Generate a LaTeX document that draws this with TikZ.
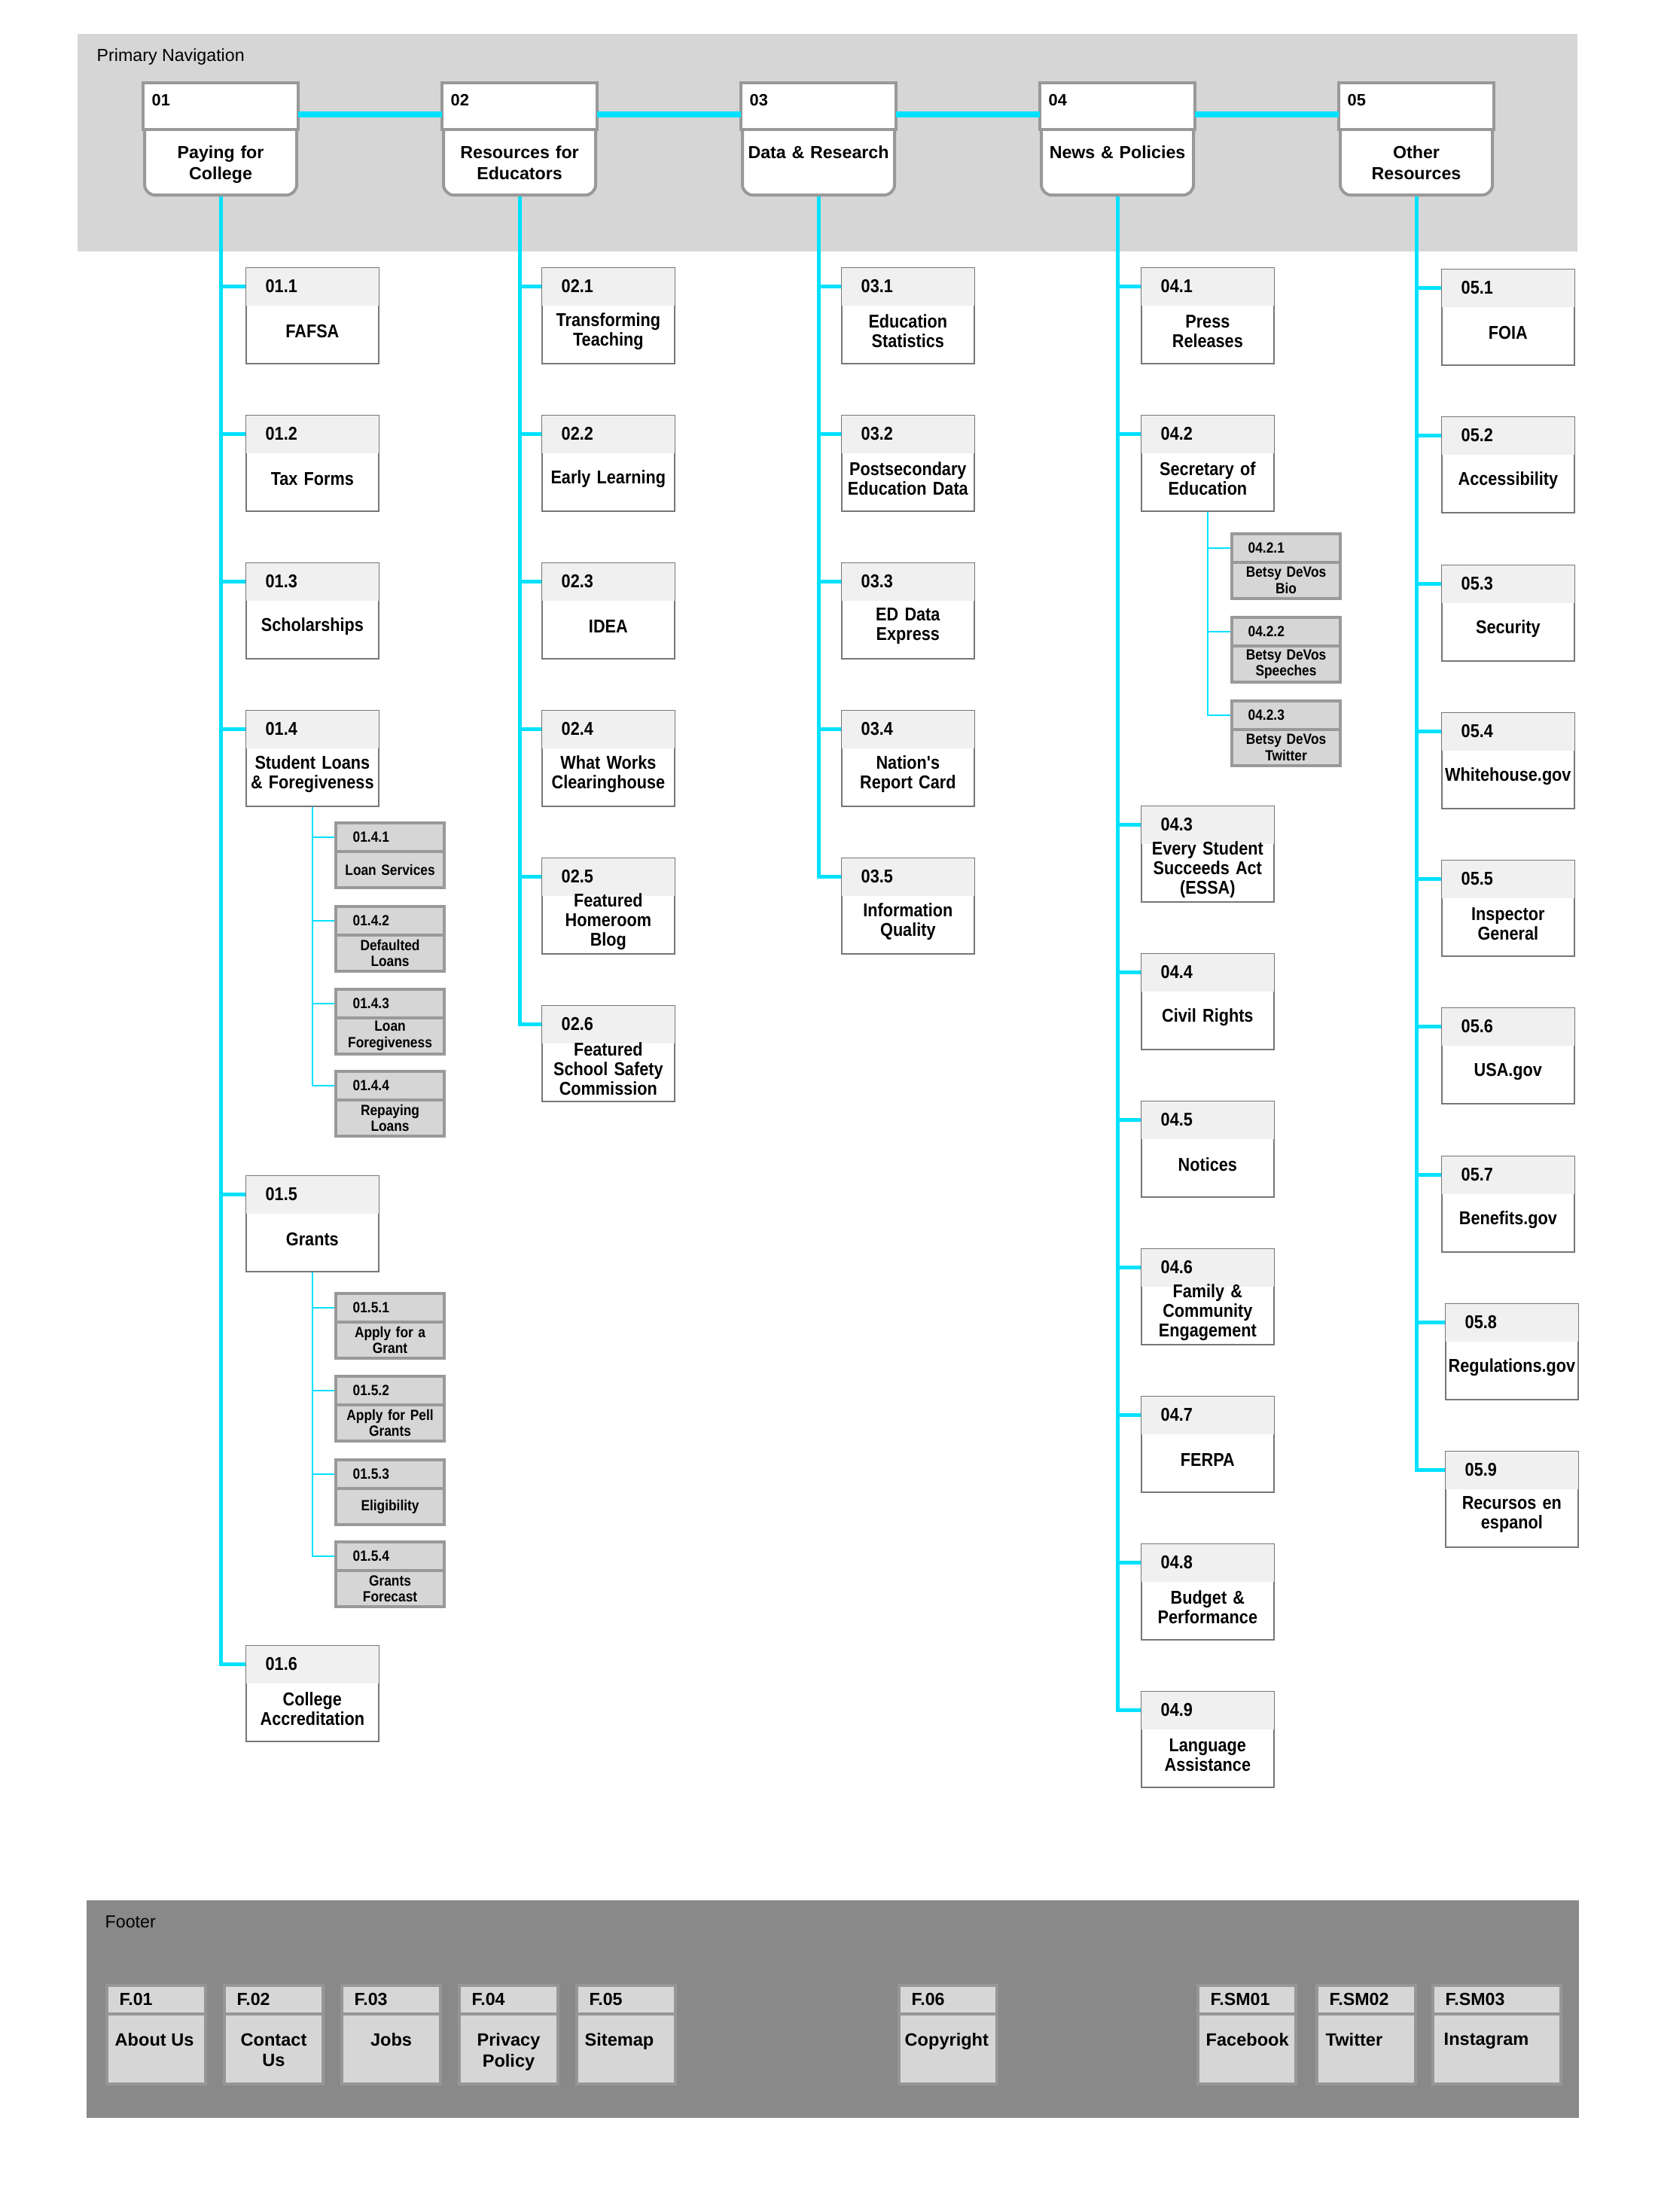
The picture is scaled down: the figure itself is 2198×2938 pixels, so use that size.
\documentclass[tikz,border=0pt]{standalone}
\usepackage{fontspec}
\setmainfont{Liberation Sans}
\newfontfamily\boxfont{Liberation Sans}[FakeStretch=0.88]
\usetikzlibrary{calc}
\definecolor{navcyan}{RGB}{0,225,255}
\definecolor{navband}{RGB}{214,214,214}
\definecolor{footband}{RGB}{137,137,137}
\definecolor{edgegray}{RGB}{153,153,153}
\definecolor{footedge}{RGB}{150,150,150}
\definecolor{boxgray}{RGB}{118,118,118}
\definecolor{headgray}{RGB}{240,240,240}
\definecolor{subfill}{RGB}{214,214,214}

\begin{document}
\begin{tikzpicture}[x=0.01cm,y=-0.01cm,
    bandlabel/.style={anchor=west,inner sep=0,font=\fontsize{6.6}{8}\selectfont},
    navbox/.style={draw=edgegray,line width=0.04cm,fill=white,rounded corners=0.14cm,
      minimum width=2.02cm,minimum height=1.47cm,anchor=north west,inner sep=0},
    navtop/.style={draw=edgegray,line width=0.04cm,fill=white},
    navnum/.style={anchor=west,inner sep=0,font=\bfseries\fontsize{6.2}{7}\selectfont},
    navtitle/.style={anchor=north,inner sep=0,text width=2.1cm,align=center,
      font=\bfseries\fontsize{6.6}{8}\selectfont},
    navlink/.style={navcyan,line width=0.08cm},
    trunk/.style={navcyan,line width=0.05cm},
    twig/.style={navcyan,line width=0.02cm},
    itembox/.style={draw=boxgray,line width=0.016cm,fill=white,minimum width=1.76cm,
      minimum height=1.27cm,anchor=north west,inner sep=0},
    itemhead/.style={fill=headgray},
    itemnum/.style={anchor=west,inner sep=0,font=\boxfont\bfseries\fontsize{7}{8}\selectfont},
    itemtext/.style={inner sep=0,text width=2.2cm,align=center,
      font=\boxfont\bfseries\fontsize{7}{7.4}\selectfont},
    subbox/.style={draw=edgegray,line width=0.04cm,fill=subfill,minimum width=1.44cm,
      minimum height=0.86cm,anchor=north west,inner sep=0},
    subedge/.style={edgegray,line width=0.04cm},
    subnum/.style={anchor=west,inner sep=0,font=\boxfont\bfseries\fontsize{5.6}{6.5}\selectfont},
    subtext/.style={inner sep=0,text width=1.8cm,align=center,
      font=\boxfont\bfseries\fontsize{5.6}{6.1}\selectfont},
    footbox/.style={draw=footedge,line width=0.04cm,fill=subfill,
      minimum height=1.31cm,anchor=north west,inner sep=0},
    footnum/.style={anchor=west,inner sep=0,font=\bfseries\fontsize{6.6}{8}\selectfont},
    foottext/.style={inner sep=0,align=center,font=\bfseries\fontsize{6.7}{7.8}\selectfont}]
  \useasboundingbox (0,0) rectangle (2198,2938);

  % primary navigation
  \fill[navband] (103,45) rectangle (2095,334);
  \node[bandlabel] (navlabel) at (128,75) {Primary Navigation};
  \foreach \k/\x/\txt in {1/190/{Paying for\\College}, 2/587/{Resources for\\Educators},
      3/984/{Data \& Research}, 4/1381/{News \& Policies}, 5/1778/{Other\\Resources}}{
    \node[navbox] (t\k) at (\x,110) {};
    \draw[navtop] (t\k.north west) rectangle ($(t\k.north east)+(0,62)$);
    \node[navnum] (t\k-n) at ($(t\k.north west)+(11,23)$) {0\k};
    \node[navtitle] (t\k-t) at ($(t\k.north)+(0,83)$) {\txt};
  }
  \foreach \a/\b in {1/2,2/3,3/4,4/5}
    \draw[navlink] ($(t\a.north east)+(0,42)$) -- ($(t\b.north west)+(0,42)$);

  % 01
  \foreach \k/\y/\txt in {1/355/FAFSA, 2/551/Tax Forms, 3/747/Scholarships,
      4/943/{Student Loans\\\& Foregiveness}, 5/1561/Grants, 6/2185/{College\\Accreditation}}{
    \node[itembox] (c1\k) at (326,\y) {};
    \fill[itemhead] ($(c1\k.north west)+(1,1)$) rectangle ($(c1\k.north east)+(-1,51)$);
    \node[itemnum] (c1\k-n) at ($(c1\k.north west)+(26,25)$) {01.\k};
    \node[itemtext] (c1\k-t) at ($(c1\k.north)+(0,85)$) {\txt};
    \draw[trunk] (t1.south) |- (c1\k.west |- c1\k-n);
  }
  \foreach \k/\y/\txt in {1/1091/Loan Services, 2/1202/{Defaulted\\Loans},
      3/1312/{Loan\\Foregiveness}, 4/1421/{Repaying\\Loans}}{
    \node[subbox] (s14\k) at (444,\y) {};
    \draw[subedge] ($(s14\k.north west)+(0,40)$) -- ($(s14\k.north east)+(0,40)$);
    \node[subnum] (s14\k-n) at ($(s14\k.north west)+(24,21)$) {01.4.\k};
    \node[subtext] (s14\k-t) at ($(s14\k.north)+(0,64)$) {\txt};
    \draw[twig] (c14.south) |- (s14\k.west |- s14\k-n);
  }
  \foreach \k/\y/\txt in {1/1716/{Apply for a\\Grant}, 2/1826/{Apply for Pell\\Grants},
      3/1937/Eligibility, 4/2046/{Grants\\Forecast}}{
    \node[subbox] (s15\k) at (444,\y) {};
    \draw[subedge] ($(s15\k.north west)+(0,40)$) -- ($(s15\k.north east)+(0,40)$);
    \node[subnum] (s15\k-n) at ($(s15\k.north west)+(24,21)$) {01.5.\k};
    \node[subtext] (s15\k-t) at ($(s15\k.north)+(0,64)$) {\txt};
    \draw[twig] (c15.south) |- (s15\k.west |- s15\k-n);
  }

  % 02
  \foreach \k/\y/\txt in {1/355/{Transforming\\Teaching}, 2/551/Early Learning, 3/747/IDEA,
      4/943/{What Works\\Clearinghouse}, 5/1139/{Featured\\Homeroom\\Blog},
      6/1335/{Featured\\School Safety\\Commission}}{
    \node[itembox] (c2\k) at (719,\y) {};
    \fill[itemhead] ($(c2\k.north west)+(1,1)$) rectangle ($(c2\k.north east)+(-1,51)$);
    \node[itemnum] (c2\k-n) at ($(c2\k.north west)+(26,25)$) {02.\k};
    \node[itemtext] (c2\k-t) at ($(c2\k.north)+(0,85)$) {\txt};
    \draw[trunk] (t2.south) |- (c2\k.west |- c2\k-n);
  }

  % 03
  \foreach \k/\y/\txt in {1/355/{Education\\Statistics}, 2/551/{Postsecondary\\Education Data},
      3/747/{ED Data\\Express}, 4/943/{Nation's\\Report Card}, 5/1139/{Information\\Quality}}{
    \node[itembox] (c3\k) at (1117,\y) {};
    \fill[itemhead] ($(c3\k.north west)+(1,1)$) rectangle ($(c3\k.north east)+(-1,51)$);
    \node[itemnum] (c3\k-n) at ($(c3\k.north west)+(26,25)$) {03.\k};
    \node[itemtext] (c3\k-t) at ($(c3\k.north)+(0,85)$) {\txt};
    \draw[trunk] (t3.south) |- (c3\k.west |- c3\k-n);
  }

  % 04
  \foreach \k/\y/\txt in {1/355/{Press\\Releases}, 2/551/{Secretary of\\Education},
      3/1070/{Every Student\\Succeeds Act\\(ESSA)}, 4/1266/Civil Rights, 5/1462/Notices,
      6/1658/{Family \&\\Community\\Engagement}, 7/1854/FERPA,
      8/2050/{Budget \&\\Performance}, 9/2246/{Language\\Assistance}}{
    \node[itembox] (c4\k) at (1515,\y) {};
    \fill[itemhead] ($(c4\k.north west)+(1,1)$) rectangle ($(c4\k.north east)+(-1,51)$);
    \node[itemnum] (c4\k-n) at ($(c4\k.north west)+(26,25)$) {04.\k};
    \node[itemtext] (c4\k-t) at ($(c4\k.north)+(0,85)$) {\txt};
    \draw[trunk] (t4.south) |- (c4\k.west |- c4\k-n);
  }
  \foreach \k/\y/\txt in {1/707/{Betsy DeVos\\Bio}, 2/818/{Betsy DeVos\\Speeches},
      3/929/{Betsy DeVos\\Twitter}}{
    \node[subbox] (s42\k) at (1634,\y) {};
    \draw[subedge] ($(s42\k.north west)+(0,40)$) -- ($(s42\k.north east)+(0,40)$);
    \node[subnum] (s42\k-n) at ($(s42\k.north west)+(23,21)$) {04.2.\k};
    \node[subtext] (s42\k-t) at ($(s42\k.north)+(0,64)$) {\txt};
    \draw[twig] (c42.south) |- (s42\k.west |- s42\k-n);
  }

  % 05
  \foreach \k/\x/\y/\txt in {1/1914/357/FOIA, 2/1914/553/Accessibility, 3/1914/750/Security,
      4/1914/946/Whitehouse.gov, 5/1914/1142/{Inspector\\General}, 6/1914/1338/USA.gov,
      7/1914/1535/Benefits.gov, 8/1919/1731/Regulations.gov, 9/1919/1927/{Recursos en\\espanol}}{
    \node[itembox] (c5\k) at (\x,\y) {};
    \fill[itemhead] ($(c5\k.north west)+(1,1)$) rectangle ($(c5\k.north east)+(-1,51)$);
    \node[itemnum] (c5\k-n) at ($(c5\k.north west)+(26,25)$) {05.\k};
    \node[itemtext] (c5\k-t) at ($(c5\k.north)+(0,85)$) {\txt};
    \draw[trunk] (t5.south) |- (c5\k.west |- c5\k-n);
  }

  % footer
  \fill[footband] (115,2524) rectangle (2097,2813);
  \node[bandlabel] (footlabel) at (139,2553) {Footer};
  \foreach \k/\x/\w/\num/\txt/\anc/\dx in {1/140/131/F.01/About Us/north west/12,
      2/296/131/F.02/{Contact\\Us}/north/0, 3/452/131/F.03/Jobs/north/0,
      4/608/131/F.04/{Privacy\\Policy}/north/0, 5/764/131/F.05/Sitemap/north west/12,
      6/1192/130/F.06/Copyright/north west/9, 7/1589/130/F.SM01/Facebook/north west/12,
      8/1747/131/F.SM02/Twitter/north west/13, 9/1901/170/F.SM03/Instagram/north west/16}{
    \node[footbox,minimum width={\w*0.01cm}] (f\k) at (\x,2635) {};
    \draw[footedge,line width=0.04cm] ($(f\k.north west)+(0,40)$) -- ($(f\k.north east)+(0,40)$);
    \node[footnum] (f\k-n) at ($(f\k.north west)+(18,20)$) {\num};
    \node[foottext,anchor=\anc] (f\k-t) at ($(f\k.\anc)+(\dx,65)$) {\txt};
  }
\end{tikzpicture}
\end{document}
